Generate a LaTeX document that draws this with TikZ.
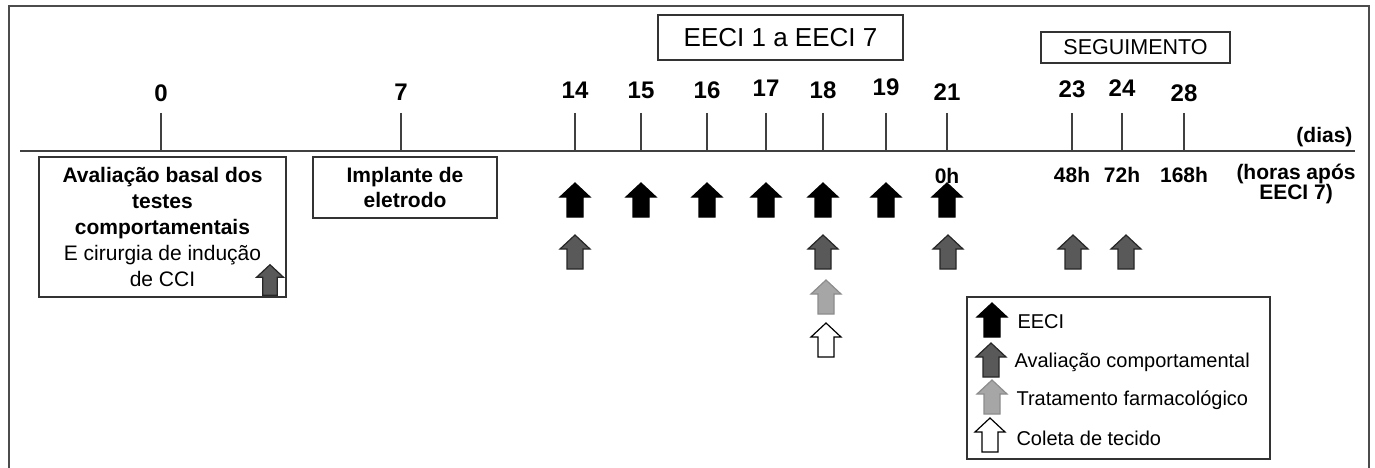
\documentclass[tikz,border=0pt]{standalone}
\usepackage{fontspec}
\setmainfont{Liberation Sans}
\begin{document}
\begin{tikzpicture}[x=1pt,y=-1pt,
  frame/.style={draw=black!70,line width=2pt},
  axis/.style={draw=black!75,line width=2pt},
  tick/.style={draw=black!75,line width=1.6pt},
  box/.style={draw=black!80,line width=1.5pt,inner sep=0pt},
  daylbl/.style={font=\fontsize{24}{26}\selectfont\bfseries},
  hrlbl/.style={font=\fontsize{21}{22}\selectfont\bfseries},
  legtxt/.style={font=\fontsize{20}{22}\selectfont,anchor=west},
  evt/.style={fill=black,draw=black,line width=1.2pt},
  beh/.style={fill=black!65,draw=black!85,line width=1.2pt},
  pharm/.style={fill=black!35,draw=black!45,line width=1.2pt},
  tissue/.style={fill=white,draw=black,line width=1.2pt},
  uparr/.pic={\path[pic actions,line join=miter] (0,-17)--(15,-3)--(8,-3)--(8,17)--(-8,17)--(-8,-3)--(-15,-3)--cycle;}
]
\useasboundingbox (0,0) rectangle (1375,468);
% outer frame (open at the bottom)
\draw[frame] (9,468) -- (9,6) -- (1369,6) -- (1369,468);
% timeline
\coordinate (tl0) at (20,151);
\coordinate (tl1) at (1355,151);
\draw[axis] (tl0) -- (tl1);
% ticks and day labels
\foreach \n/\x/\ly in {0/161/93,7/401/92,14/575/90,15/641/90,16/707/90,17/766/88,18/823/90,19/886/87,21/947/92,23/1072/89,24/1122/88,28/1184/93}{
  \coordinate (t\n) at (\x,151);
  \coordinate (tt\n) at (\x,113);
  \draw[tick] (tt\n) -- (t\n);
  \node[daylbl] (d\n) at (\x,\ly) {\n};
}
\node[hrlbl,anchor=east] (dias) at (1356,137) {(dias)};
% top boxes
\node[box,minimum width=245pt,minimum height=45pt,font=\fontsize{26}{28}\selectfont] (eeci) at (780.5,37.5) {EECI 1 a EECI 7};
\node[box,minimum width=189pt,minimum height=31pt,font=\fontsize{21.5}{23}\selectfont] (seg) at (1135.5,47.5) {SEGUIMENTO};
% lower-left boxes
\node[box,minimum width=247pt,minimum height=140pt,align=center,font=\fontsize{21}{26}\selectfont] (b1) at (162.5,227) {\textbf{Avaliação basal dos}\\\textbf{testes}\\\textbf{comportamentais}\\E cirurgia de indução\\de CCI};
\node[box,minimum width=184pt,minimum height=61pt,align=center,font=\fontsize{21}{25}\selectfont\bfseries] (b2) at (405,187.5) {Implante de\\eletrodo};
\pic[beh,scale=0.9] at (270,280) {uparr};
% hour labels
\node[hrlbl] (h0) at (947,176) {0h};
\node[hrlbl] (h48) at (1072,175) {48h};
\node[hrlbl] (h72) at (1122,175) {72h};
\node[hrlbl] (h168) at (1184,175) {168h};
\node[hrlbl,align=center,font=\fontsize{21}{18}\selectfont\bfseries] (hr) at (1296,184) {(horas após\\EECI 7)};
% EECI arrows
\foreach \x in {575,641,707,766,823,886,947}{\pic[evt] at (\x,200) {uparr};}
% behavioural arrows
\foreach \x in {575,823,948,1073,1126}{\pic[beh] at (\x,252) {uparr};}
% pharmacological and tissue
\pic[pharm] at (826,297) {uparr};
\pic[tissue] at (826,340) {uparr};
% legend
\node[box,minimum width=303pt,minimum height=162pt] (leg) at (1118.5,378) {};
\pic[evt] at (992,320) {uparr};
\pic[beh] at (991,360) {uparr};
\pic[pharm] at (992,397) {uparr};
\pic[tissue] at (990,435) {uparr};
\node[legtxt] (l1) at (1014,322) {EECI};
\node[legtxt] (l2) at (1011,362) {Avaliação comportamental};
\node[legtxt] (l3) at (1013,400) {Tratamento farmacológico};
\node[legtxt] (l4) at (1013,438) {Coleta de tecido};
\end{tikzpicture}
\end{document}
